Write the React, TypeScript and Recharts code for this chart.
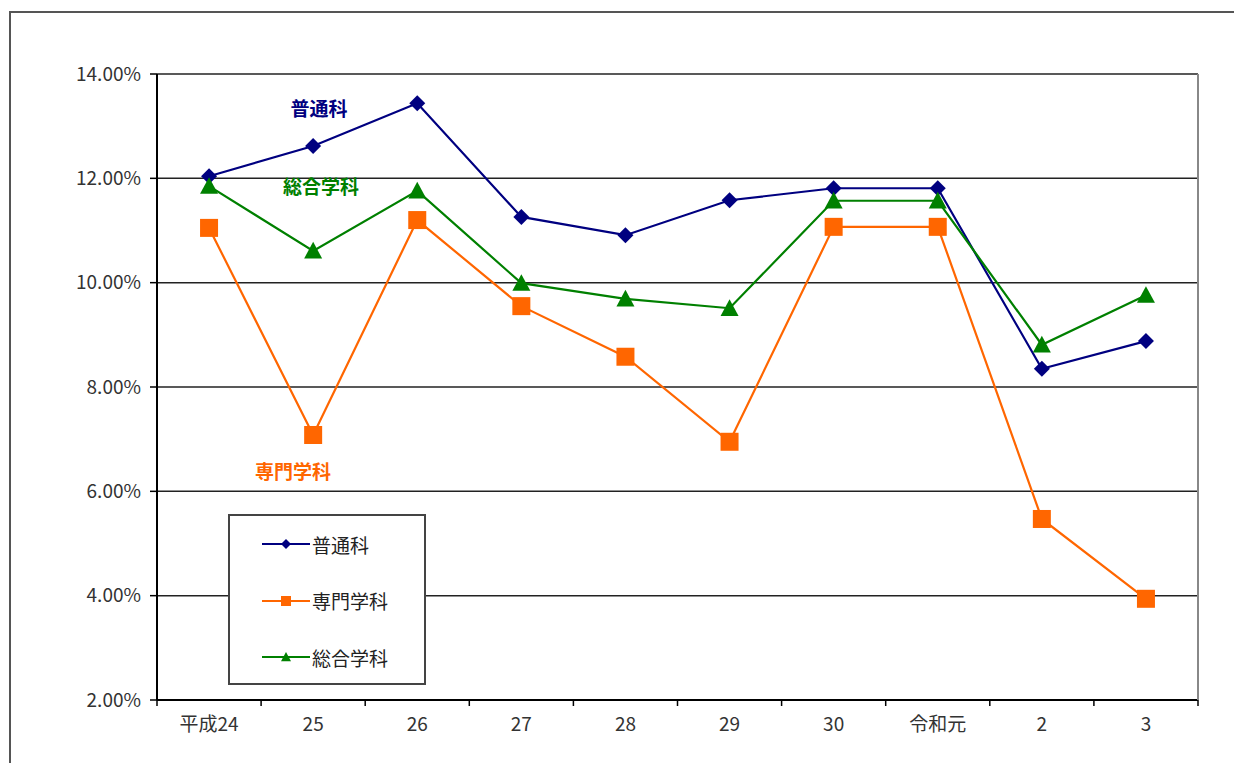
import React from "react";
import { LineChart, Line, XAxis, YAxis, CartesianGrid, Legend } from "recharts";

// 年度
const years = ["平成24", "25", "26", "27", "28", "29", "30", "令和元", "2", "3"];
// 各学科の値 (%)
const futsuu = [12.04, 12.62, 13.44, 11.26, 10.91, 11.58, 11.81, 11.81, 8.35, 8.88];
const senmon = [11.05, 7.08, 11.2, 9.55, 8.58, 6.95, 11.07, 11.07, 5.47, 3.94];
const sougou = [11.85, 10.61, 11.76, 9.99, 9.69, 9.51, 11.57, 11.57, 8.81, 9.76];
const yTicks = [2, 4, 6, 8, 10, 12, 14];

const NAVY = "#000080";
const ORANGE = "#FF6600";
const GREEN = "#008000";
const FONT = "'Noto Sans CJK JP', 'Noto Sans', sans-serif";

const data = years.map((year, i) => ({
  year,
  futsuu: futsuu[i],
  senmon: senmon[i],
  sougou: sougou[i],
}));

const series = [
  { key: "futsuu", name: "普通科", color: NAVY, shape: "diamond" },
  { key: "senmon", name: "専門学科", color: ORANGE, shape: "square" },
  { key: "sougou", name: "総合学科", color: GREEN, shape: "triangle" },
];

function Marker({ cx, cy, shape, color, r }: any) {
  if (cx == null || cy == null) return null;
  if (shape === "diamond") {
    return (
      <polygon
        points={`${cx},${cy - r} ${cx + r},${cy} ${cx},${cy + r} ${cx - r},${cy}`}
        fill={color}
      />
    );
  }
  if (shape === "square") {
    return <rect x={cx - r} y={cy - r} width={r * 2} height={r * 2} fill={color} />;
  }
  return (
    <polygon
      points={`${cx},${cy - r} ${cx + r},${cy + r * 0.85} ${cx - r},${cy + r * 0.85}`}
      fill={color}
    />
  );
}

function XTick({ x, y, payload, index }: any) {
  const off = payload?.offset || 52;
  return (
    <g>
      <line x1={x - off} y1={y - 6} x2={x - off} y2={y} stroke="#000" strokeWidth={1.5} />
      {index === years.length - 1 && (
        <line x1={x + off} y1={y - 6} x2={x + off} y2={y} stroke="#000" strokeWidth={1.5} />
      )}
      <text x={x} y={y} dy={25} textAnchor="middle" fill="#333" fontSize={19} fontFamily={FONT}>
        {payload.value}
      </text>
    </g>
  );
}

function LegendBox() {
  return (
    <div
      style={{
        boxSizing: "border-box",
        width: 198,
        height: 171,
        border: "2px solid #444",
        background: "#fff",
      }}
    >
      {series.map((s) => (
        <div key={s.key} style={{ display: "flex", alignItems: "center", height: 56.5 }}>
          <svg width={80} height={20} style={{ marginLeft: 2 }}>
            <line x1={30} y1={10} x2={78} y2={10} stroke={s.color} strokeWidth={2} />
            <Marker cx={54} cy={10} shape={s.shape} color={s.color} r={5} />
          </svg>
          <span style={{ fontFamily: FONT, fontSize: 19, color: "#222" }}>{s.name}</span>
        </div>
      ))}
    </div>
  );
}

const noteStyle: React.CSSProperties = {
  position: "absolute",
  fontFamily: FONT,
  fontWeight: "bold",
  fontSize: 19,
  transform: "translate(-50%, -50%)",
  whiteSpace: "nowrap",
};

export default function App() {
  return (
    <div
      style={{
        position: "absolute",
        left: 0,
        top: 0,
        width: 1234,
        height: 763,
        overflow: "hidden",
        background: "#fff",
      }}
    >
      <div
        style={{
          position: "absolute",
          left: 9,
          top: 11,
          width: 1300,
          height: 800,
          border: "2px solid #555",
        }}
      />
      <LineChart
        width={1234}
        height={763}
        data={data}
        margin={{ top: 74, right: 34, bottom: 23, left: 0 }}
        style={{ fontFamily: FONT }}
      >
        <CartesianGrid vertical={false} stroke="#222" strokeWidth={1.5} />
        <XAxis
          dataKey="year"
          scale="band"
          height={40}
          tickLine={false}
          tickSize={6}
          tickMargin={0}
          axisLine={{ stroke: "#000", strokeWidth: 2 }}
          tick={<XTick />}
          interval={0}
        />
        <YAxis
          width={157}
          domain={[2, 14]}
          ticks={yTicks}
          tickFormatter={(v: number) => `${v.toFixed(2)}%`}
          axisLine={{ stroke: "#000", strokeWidth: 2 }}
          tickLine={{ stroke: "#000", strokeWidth: 1.5 }}
          tickSize={7}
          tickMargin={9}
          tick={{ fill: "#333", fontSize: 19 }}
          allowDataOverflow
        />
        <YAxis
          yAxisId="right"
          orientation="right"
          width={2}
          domain={[2, 14]}
          tick={false}
          tickLine={false}
          axisLine={{ stroke: "#888", strokeWidth: 2 }}
        />
        <Legend
          layout="horizontal"
          verticalAlign="middle"
          align="center"
          wrapperStyle={{ left: 228, top: 514, width: 198, height: 171 }}
          content={() => <LegendBox />}
        />
        {series.map((s) => (
          <Line
            key={s.key}
            type="linear"
            dataKey={s.key}
            name={s.name}
            stroke={s.color}
            strokeWidth={2.2}
            isAnimationActive={false}
            activeDot={false}
            dot={(p: any) => (
              <Marker
                key={`${s.key}-${p.index}`}
                cx={p.cx}
                cy={p.cy}
                shape={s.shape}
                color={s.color}
                r={s.shape === "diamond" ? 8 : 9}
              />
            )}
          />
        ))}
      </LineChart>
      <div style={{ ...noteStyle, left: 319, top: 107, color: NAVY }}>普通科</div>
      <div style={{ ...noteStyle, left: 321, top: 185, color: GREEN }}>総合学科</div>
      <div style={{ ...noteStyle, left: 293, top: 470, color: ORANGE }}>専門学科</div>
    </div>
  );
}
